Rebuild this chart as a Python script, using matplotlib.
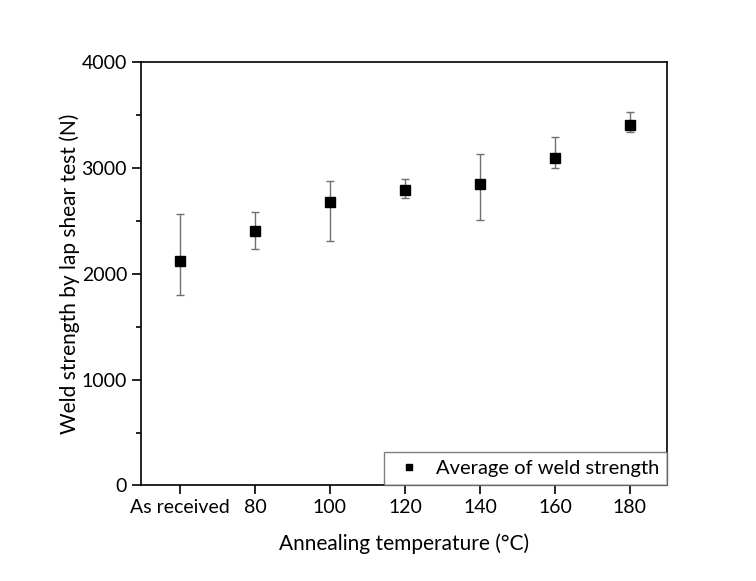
import matplotlib.pyplot as plt
from matplotlib.lines import Line2D
from matplotlib.ticker import MultipleLocator

# annealing condition, plotted at its temperature; "As received" sits one step before 80
categorias = ["As received", "80", "100", "120", "140", "160", "180"]
temperaturas = [60, 80, 100, 120, 140, 160, 180]
media = [2120, 2405, 2680, 2790, 2845, 3095, 3400]
erro_inf = [318, 172, 375, 72, 335, 95, 65]
erro_sup = [442, 175, 195, 108, 285, 200, 123]

plt.rcParams["font.family"] = ["Lato", "DejaVu Sans"]

fig = plt.figure(figsize=(7.56, 5.81), dpi=100)
ax = fig.add_axes([0.1865, 0.1644, 0.6958, 0.729])

ax.errorbar(temperaturas, media, yerr=[erro_inf, erro_sup], fmt="s", color="black",
            markersize=7, ecolor="#707070", elinewidth=1, capsize=3, capthick=1,
            zorder=3)

ax.set_xlim(49.6, 189.9)
ax.set_ylim(0, 4000)
ax.set_xticks(temperaturas)
ax.set_xticklabels(categorias)
ax.yaxis.set_major_locator(MultipleLocator(1000))
ax.yaxis.set_minor_locator(MultipleLocator(500))

ax.tick_params(axis="both", which="major", direction="out", length=6.5, width=1.2,
               labelsize=14, pad=3.5)
ax.tick_params(axis="y", which="minor", direction="out", length=3.5, width=1.2)
for lado in ax.spines.values():
    lado.set_linewidth(1.2)

ax.set_xlabel("Annealing temperature (°C)", fontsize=15, labelpad=12)
ax.set_ylabel("Weld strength by lap shear test (N)", fontsize=15, labelpad=1)

marcador = Line2D([], [], marker="s", color="black", linestyle="none", markersize=5)
leg = ax.legend([marcador], ["Average of weld strength"], loc="lower right", fontsize=14.5,
                frameon=True, fancybox=False, borderaxespad=0, handletextpad=0.45,
                borderpad=0.4, handlelength=1.7)
leg.get_frame().set_edgecolor("#606060")
leg.get_frame().set_linewidth(1)

fig.savefig("out.png", dpi=100)
